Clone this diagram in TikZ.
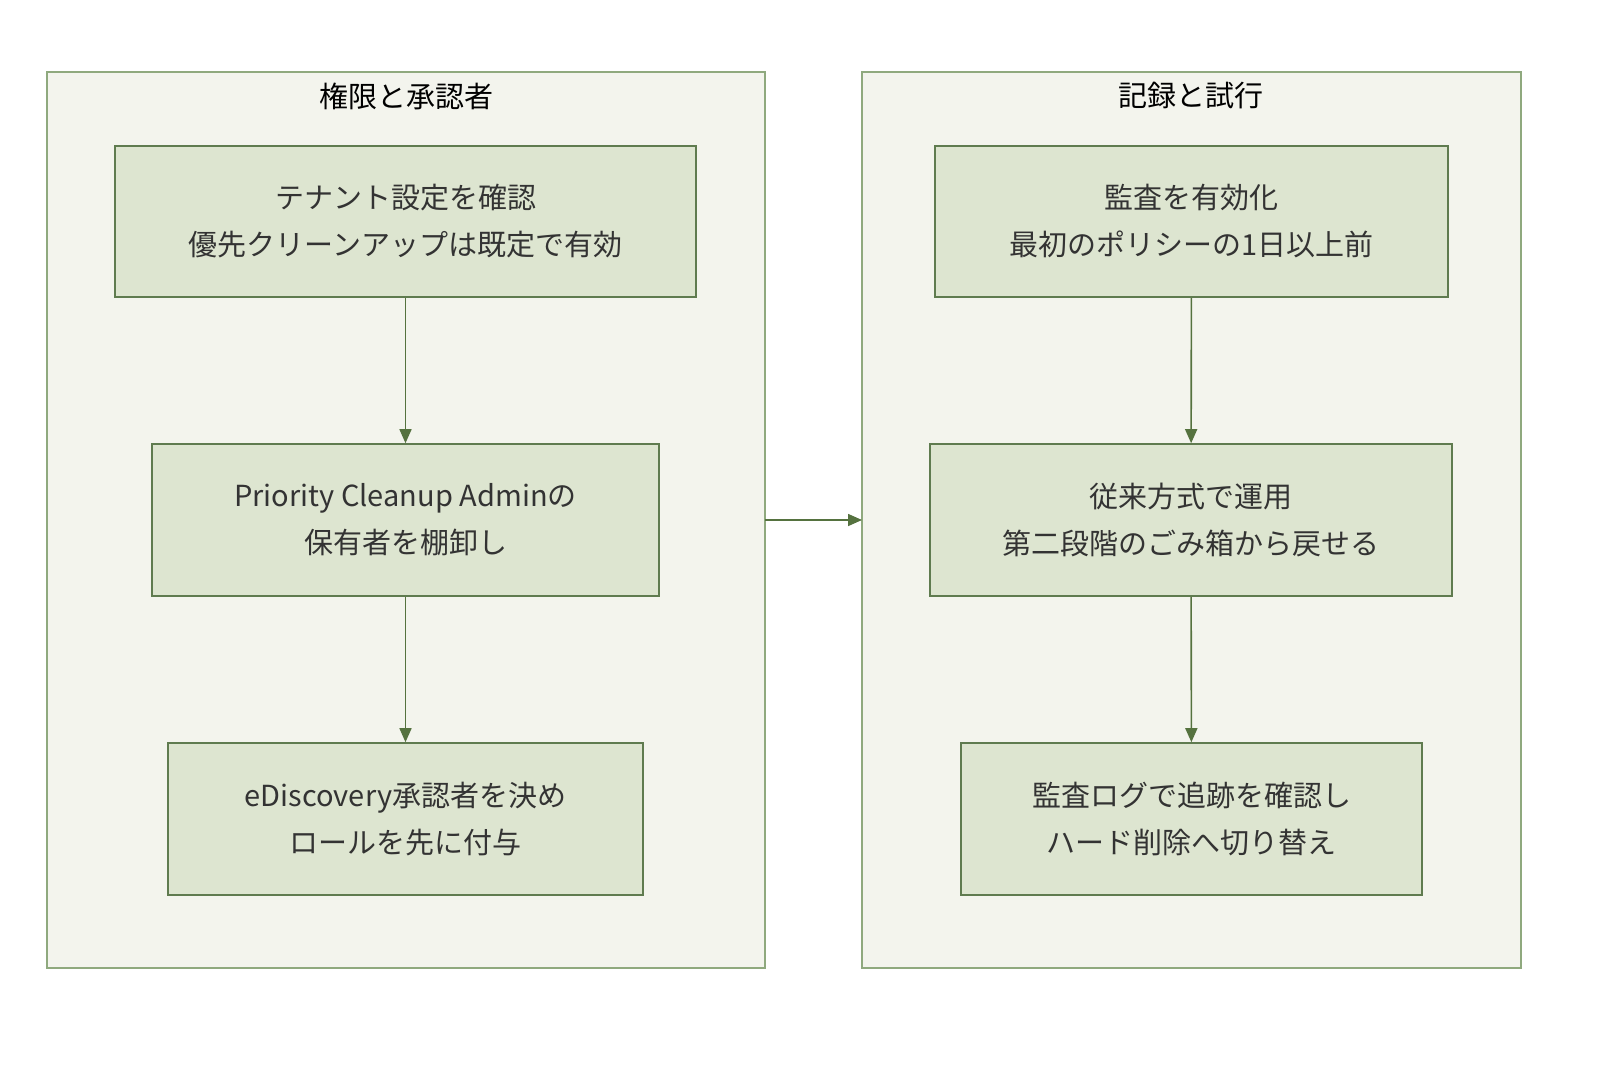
\documentclass[tikz,border=0pt]{standalone}
\usepackage{fontspec}
\setmainfont{Noto Sans CJK JP}
\usetikzlibrary{arrows.meta}
\definecolor{clusterfill}{HTML}{F3F4ED}
\definecolor{clusterline}{HTML}{8FA97E}
\definecolor{stepfill}{HTML}{DDE5D0}
\definecolor{stepline}{HTML}{5F7B4F}
\definecolor{flowline}{HTML}{55723F}
\definecolor{textdark}{HTML}{333333}

\begin{document}
\begin{tikzpicture}[
    x=0.5pt, y=-0.5pt,
    cluster/.style={draw=clusterline, fill=clusterfill, line width=0.8pt},
    stepbox/.style={draw=stepline, fill=stepfill, line width=0.8pt, align=center,
        text=textdark, font=\fontsize{14.5}{23.5}\selectfont, inner sep=0pt},
    title/.style={text=black, font=\fontsize{14.5}{18}\selectfont},
    flow/.style={draw=flowline, line width=0.8pt, -{Triangle[length=7pt,width=6pt]}}]

    \useasboundingbox (0,0) rectangle (1606,1070);

    % clusters
    \draw [cluster] (47,72) rectangle (765,968);
    \draw [cluster] (862,72) rectangle (1521,968);
    \coordinate (leftE) at (765,520);
    \coordinate (rightW) at (862,520);
    \node [title] (t1) at (406,96) {権限と承認者};
    \node [title] (t2) at (1191,96) {記録と試行};

    % left steps
    \node [stepbox, minimum width=290.5pt, minimum height=75.5pt] (a) at (405.5,221.5) {テナント設定を確認\\優先クリーンアップは既定で有効};
    \node [stepbox, minimum width=253.5pt, minimum height=76pt] (b) at (405.5,520) {Priority Cleanup Adminの\\保有者を棚卸し};
    \node [stepbox, minimum width=237.5pt, minimum height=76pt] (c) at (405.5,819) {eDiscovery承認者を決め\\ロールを先に付与};

    % right steps
    \node [stepbox, minimum width=256.5pt, minimum height=75.5pt] (d) at (1191.5,221.5) {監査を有効化\\最初のポリシーの1日以上前};
    \node [stepbox, minimum width=261pt, minimum height=76pt] (e) at (1191,520) {従来方式で運用\\第二段階のごみ箱から戻せる};
    \node [stepbox, minimum width=230.5pt, minimum height=76pt] (f) at (1191.5,819) {監査ログで追跡を確認し\\ハード削除へ切り替え};

    \draw [flow] (a) -- (b);
    \draw [flow] (b) -- (c);
    \draw [flow] (d) -- (e);
    \draw [flow] (e) -- (f);
    \draw [flow] (leftE) -- (rightW);

\end{tikzpicture}
\end{document}
